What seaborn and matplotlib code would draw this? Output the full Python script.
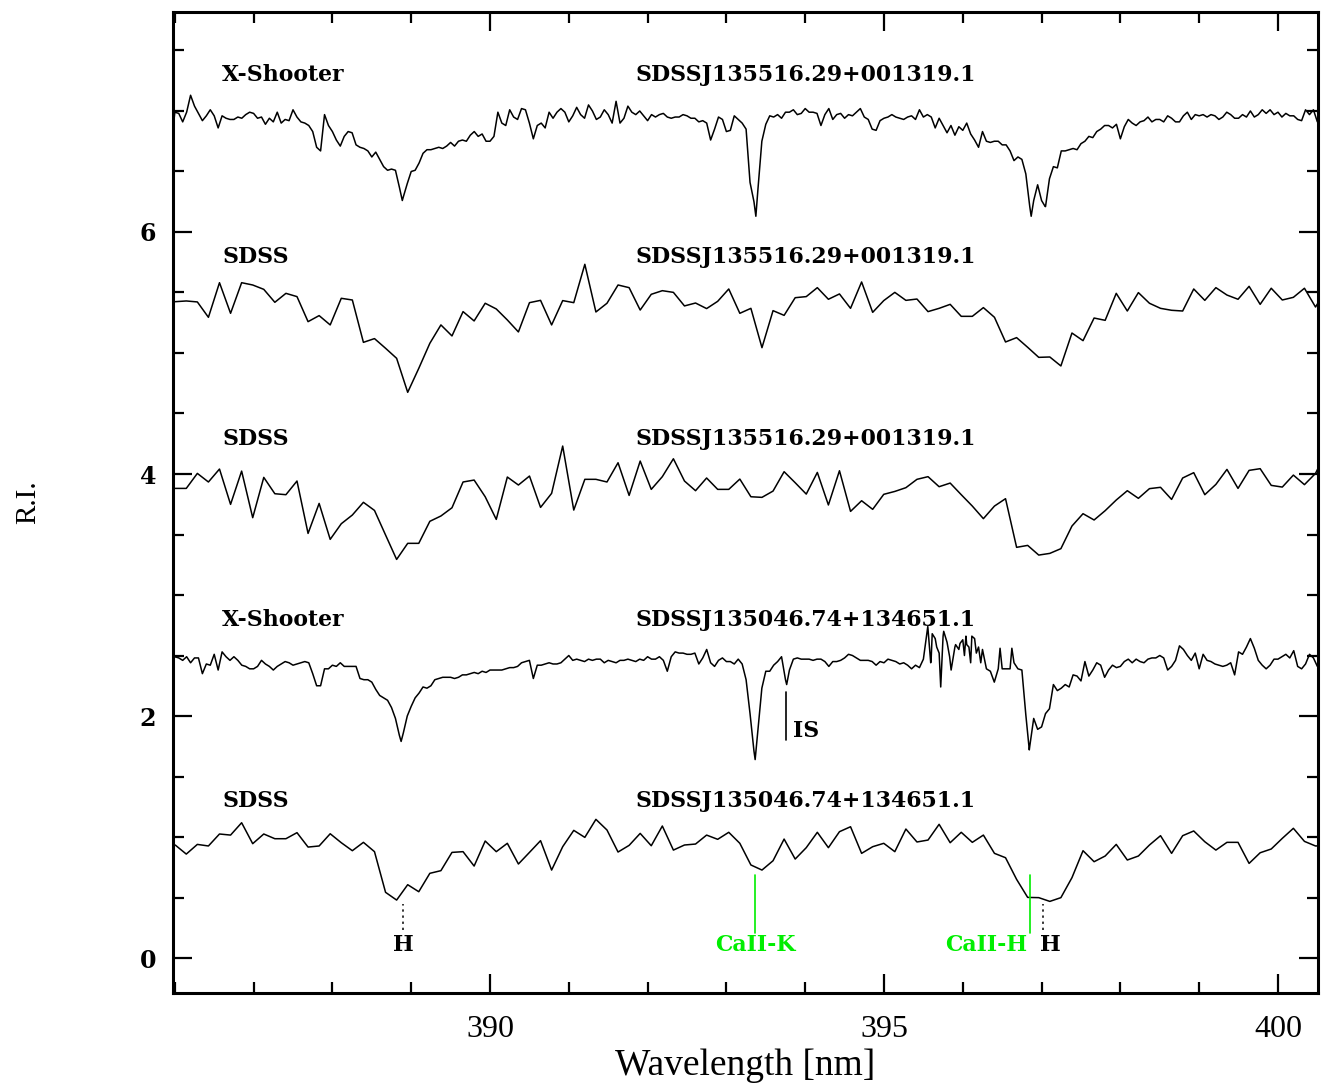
import numpy as np
import pandas as pd
import matplotlib
matplotlib.use("Agg")
import matplotlib.pyplot as plt
from matplotlib.ticker import MultipleLocator
import seaborn as sns

# ---------------- data ----------------
# X-Shooter spectra: regular grid (start, step) plus extra points at line cores
xs_start, xs_step = 385.95, 0.05
xs1_vals = [
    6.68, 6.99, 6.98, 6.91, 6.99, 7.13, 7.04, 6.98, 6.92, 6.96,
    7.01, 6.96, 6.86, 6.96, 6.94, 6.93, 6.93, 6.95, 6.94, 6.97,
    6.99, 6.98, 6.94, 6.95, 6.89, 6.94, 6.91, 6.99, 6.90, 6.93,
    6.92, 7.01, 6.95, 6.91, 6.90, 6.88, 6.83, 6.70, 6.67, 6.97,
    6.88, 6.83, 6.76, 6.71, 6.79, 6.83, 6.82, 6.72, 6.70, 6.69,
    6.67, 6.62, 6.66, 6.60, 6.54, 6.51, 6.52, 6.51, 6.37, 6.29,
    6.40, 6.50, 6.51, 6.57, 6.65, 6.68, 6.68, 6.69, 6.70, 6.69,
    6.71, 6.74, 6.71, 6.75, 6.76, 6.75, 6.80, 6.83, 6.79, 6.81,
    6.75, 6.75, 6.79, 6.99, 6.90, 6.88, 7.01, 6.95, 6.93, 7.02,
    7.01, 6.90, 6.77, 6.88, 6.90, 6.86, 6.99, 6.94, 6.99, 7.02,
    6.99, 6.91, 6.96, 7.03, 6.97, 6.94, 7.05, 7.00, 6.93, 6.95,
    7.01, 6.97, 6.90, 7.08, 6.90, 6.94, 7.04, 6.99, 6.97, 7.00,
    6.96, 6.92, 6.97, 6.95, 6.97, 6.98, 6.95, 6.94, 6.95, 6.95,
    6.97, 6.96, 6.94, 6.94, 6.91, 6.92, 6.90, 6.76, 6.85, 6.95,
    6.93, 6.83, 6.84, 6.96, 6.93, 6.90, 6.85, 6.41, 6.25, 6.35,
    6.75, 6.89, 6.96, 6.95, 6.97, 6.94, 6.99, 6.99, 7.01, 6.97,
    6.98, 7.02, 6.99, 6.99, 6.98, 6.88, 6.97, 7.02, 6.93, 6.97,
    6.98, 6.94, 6.97, 6.96, 6.99, 7.02, 6.95, 6.93, 6.85, 6.84,
    6.92, 6.94, 6.95, 6.97, 6.95, 6.94, 6.93, 6.95, 6.96, 6.93,
    7.01, 6.95, 6.97, 6.95, 6.86, 6.94, 6.88, 6.82, 6.88, 6.80,
    6.87, 6.84, 6.90, 6.81, 6.76, 6.70, 6.83, 6.75, 6.74, 6.75,
    6.75, 6.72, 6.72, 6.67, 6.59, 6.62, 6.60, 6.48, 6.21, 6.26,
    6.39, 6.26, 6.21, 6.44, 6.54, 6.53, 6.67, 6.67, 6.68, 6.69,
    6.68, 6.73, 6.75, 6.79, 6.78, 6.83, 6.85, 6.88, 6.88, 6.86,
    6.89, 6.77, 6.87, 6.93, 6.90, 6.88, 6.91, 6.92, 6.95, 6.91,
    6.93, 6.93, 6.91, 6.96, 6.94, 6.91, 6.91, 6.96, 6.99, 6.93,
    6.97, 6.96, 6.97, 6.95, 6.97, 6.96, 6.93, 6.95, 6.99, 6.97,
    6.94, 6.94, 6.97, 6.95, 7.00, 6.95, 6.97, 7.01, 6.98, 7.01,
    6.97, 6.99, 6.95, 6.98, 6.96, 6.96, 6.93, 6.92, 7.01, 6.97,
    7.01, 6.91, 6.95]
xs1_core_wl = [388.887, 393.374, 396.868, 397.046]
xs1_core_val = [6.26, 6.13, 6.13, 6.21]

xs2_vals = [
    2.42, 2.49, 2.48, 2.46, 2.49, 2.44, 2.48, 2.48, 2.35, 2.43,
    2.42, 2.51, 2.38, 2.53, 2.49, 2.46, 2.49, 2.46, 2.42, 2.41,
    2.39, 2.39, 2.41, 2.46, 2.43, 2.41, 2.38, 2.41, 2.43, 2.45,
    2.44, 2.42, 2.43, 2.44, 2.45, 2.44, 2.35, 2.25, 2.25, 2.39,
    2.39, 2.42, 2.41, 2.44, 2.41, 2.41, 2.41, 2.41, 2.31, 2.30,
    2.30, 2.28, 2.22, 2.17, 2.15, 2.13, 2.07, 1.98, 1.84, 1.86,
    2.00, 2.08, 2.15, 2.19, 2.24, 2.23, 2.25, 2.30, 2.31, 2.32,
    2.32, 2.32, 2.31, 2.32, 2.34, 2.34, 2.35, 2.36, 2.35, 2.37,
    2.36, 2.38, 2.38, 2.38, 2.38, 2.39, 2.40, 2.40, 2.41, 2.44,
    2.45, 2.46, 2.31, 2.42, 2.42, 2.43, 2.44, 2.43, 2.43, 2.44,
    2.47, 2.50, 2.46, 2.47, 2.46, 2.45, 2.47, 2.46, 2.47, 2.47,
    2.44, 2.46, 2.45, 2.44, 2.46, 2.46, 2.47, 2.46, 2.45, 2.47,
    2.46, 2.49, 2.47, 2.47, 2.49, 2.46, 2.37, 2.49, 2.53, 2.52,
    2.52, 2.51, 2.51, 2.52, 2.43, 2.48, 2.55, 2.44, 2.41, 2.46,
    2.48, 2.45, 2.45, 2.43, 2.47, 2.43, 2.30, 2.02, 1.71, 1.88,
    2.23, 2.37, 2.37, 2.42, 2.45, 2.49, 2.30, 2.38, 2.47, 2.48,
    2.47, 2.47, 2.47, 2.46, 2.47, 2.47, 2.45, 2.41, 2.45, 2.45,
    2.46, 2.48, 2.51, 2.50, 2.48, 2.46, 2.46, 2.46, 2.45, 2.42,
    2.45, 2.44, 2.47, 2.46, 2.45, 2.43, 2.44, 2.42, 2.39, 2.42,
    2.40, 2.47, 2.71, 2.49, 2.64, 2.52, 2.66, 2.61, 2.39, 2.57,
    2.55, 2.63, 2.59, 2.44, 2.64, 2.57, 2.55, 2.39, 2.37, 2.28,
    2.39, 2.39, 2.39, 2.39, 2.44, 2.39, 2.38, 2.01, 1.75, 1.98,
    1.89, 1.91, 2.02, 2.06, 2.26, 2.21, 2.23, 2.26, 2.24, 2.34,
    2.33, 2.29, 2.45, 2.33, 2.38, 2.44, 2.42, 2.32, 2.38, 2.42,
    2.40, 2.41, 2.45, 2.47, 2.44, 2.47, 2.45, 2.44, 2.47, 2.48,
    2.48, 2.50, 2.48, 2.38, 2.41, 2.46, 2.58, 2.55, 2.50, 2.46,
    2.52, 2.39, 2.51, 2.46, 2.45, 2.43, 2.42, 2.41, 2.42, 2.44,
    2.34, 2.53, 2.51, 2.57, 2.64, 2.56, 2.46, 2.42, 2.39, 2.42,
    2.47, 2.47, 2.49, 2.51, 2.48, 2.54, 2.41, 2.39, 2.43, 2.51,
    2.48, 2.41, 2.45]
xs2_core_wl = [388.872, 393.365, 393.765, 395.556, 395.593, 395.612, 395.669,
               395.720, 395.758, 395.833, 395.852, 395.909, 395.965, 396.021,
               396.040, 396.078, 396.115, 396.172, 396.228, 396.473, 396.623,
               396.844]
xs2_core_val = [1.79, 1.64, 2.26, 2.74, 2.44, 2.68, 2.57, 2.24, 2.70, 2.49,
                2.38, 2.59, 2.60, 2.50, 2.66, 2.57, 2.66, 2.52, 2.44, 2.56,
                2.56, 1.72]

# SDSS spectra: regular grid
sd_start, sd_step = 386.005, 0.1405
sdss1_vals = [
    5.424, 5.430, 5.422, 5.295, 5.581, 5.328, 5.581, 5.562, 5.526, 5.419,
    5.493, 5.466, 5.259, 5.309, 5.232, 5.452, 5.438, 5.088, 5.119, 5.039,
    4.956, 4.675, 4.873, 5.080, 5.232, 5.141, 5.342, 5.265, 5.411, 5.364,
    5.273, 5.174, 5.416, 5.435, 5.232, 5.433, 5.416, 5.733, 5.339, 5.411,
    5.562, 5.540, 5.355, 5.485, 5.515, 5.501, 5.389, 5.413, 5.367, 5.427,
    5.529, 5.328, 5.369,
    5.044, 5.350, 5.311, 5.457, 5.466, 5.540, 5.444, 5.488, 5.369, 5.587,
    5.336, 5.433, 5.501, 5.435, 5.446, 5.342, 5.369, 5.402, 5.303, 5.303,
    5.375, 5.295, 5.091, 5.127, 5.047, 4.964, 4.967, 4.893, 5.165, 5.102,
    5.289, 5.270, 5.493, 5.347, 5.499, 5.411, 5.369, 5.353, 5.347, 5.529,
    5.435, 5.540, 5.479, 5.444, 5.551, 5.402, 5.535, 5.438, 5.460, 5.535,
    5.380, 5.529]
sdss2_vals = [
    3.881, 3.881, 4.005, 3.934, 4.041, 3.749, 4.024, 3.639, 3.972, 3.837,
    3.829, 3.942, 3.509, 3.757, 3.460, 3.589, 3.661, 3.766, 3.699, 3.496,
    3.294, 3.427, 3.427, 3.609, 3.653, 3.721, 3.934, 3.950, 3.812, 3.625,
    3.975, 3.909, 3.983, 3.724, 3.840, 4.231, 3.702, 3.956, 3.956, 3.934,
    4.093, 3.823, 4.107, 3.873, 3.978, 4.126, 3.942, 3.862, 3.967, 3.873,
    3.873, 3.958, 3.812,
    3.807, 3.859, 4.019, 3.928, 3.834, 4.013, 3.744, 4.027, 3.691, 3.779,
    3.708, 3.832, 3.856, 3.887, 3.956, 3.978, 3.895, 3.925, 3.829, 3.735,
    3.631, 3.735, 3.796, 3.394, 3.410, 3.330, 3.344, 3.383, 3.570, 3.672,
    3.620, 3.697, 3.785, 3.862, 3.799, 3.879, 3.890, 3.790, 3.967, 4.011,
    3.829, 3.914, 4.038, 3.881, 4.030, 4.044, 3.906, 3.892, 3.991, 3.912,
    4.005, 4.190]
sdss3_vals = [
    0.934, 0.859, 0.939, 0.926, 1.025, 1.016, 1.118, 0.945, 1.025, 0.986,
    0.986, 1.036, 0.917, 0.926, 1.027, 0.953, 0.887, 0.956, 0.879, 0.543,
    0.479, 0.606, 0.548, 0.700, 0.722, 0.873, 0.879, 0.760, 0.967, 0.879,
    0.948, 0.777, 0.873, 0.970, 0.727, 0.920, 1.055, 0.997, 1.146, 1.058,
    0.876, 0.931, 1.030, 0.928, 1.091, 0.892, 0.934, 0.942, 1.016, 0.981,
    1.039, 0.948, 0.769,
    0.727, 0.804, 0.983, 0.818, 0.912, 1.039, 0.912, 1.044, 1.085, 0.865,
    0.920, 0.948, 0.879, 1.066, 0.959, 0.975, 1.105, 0.953, 1.039, 0.956,
    1.016, 0.865, 0.829, 0.650, 0.501, 0.499, 0.468, 0.499, 0.664, 0.887,
    0.796, 0.843, 0.939, 0.810, 0.843, 0.934, 1.011, 0.865, 1.011, 1.050,
    0.961, 0.892, 0.956, 0.956, 0.782, 0.870, 0.901, 0.989, 1.072, 0.964,
    0.926, 0.930]

# panel labels: (instrument, object, y position)
instruments = ["X-Shooter", "SDSS", "SDSS", "X-Shooter", "SDSS"]
objects = ["SDSSJ135516.29+001319.1", "SDSSJ135516.29+001319.1",
           "SDSSJ135516.29+001319.1", "SDSSJ135046.74+134651.1",
           "SDSSJ135046.74+134651.1"]
label_y = [7.30, 5.79, 4.29, 2.79, 1.30]
inst_x, obj_x = 386.60, 391.85

# line identifications
h_lines = [388.895, 397.02]
ca_lines = {"CaII-K": 393.367, "CaII-H": 396.853}
is_line = 393.76

# ---------------- plotting ----------------
sns.set_theme(style="ticks")
plt.rcParams['font.family'] = ['DejaVu Serif', 'DejaVu Sans']
plt.rcParams.update({
    'axes.facecolor': 'white', 'figure.facecolor': 'white',
    'text.color': 'black', 'axes.labelcolor': 'black',
    'xtick.color': 'black', 'ytick.color': 'black',
    'axes.edgecolor': 'black',
})

W, H = 1322, 1084
fig = plt.figure(figsize=(W / 100, H / 100), dpi=100)
ax = fig.add_axes([173 / W, 1 - 993 / H, (1318 - 173) / W, (993 - 12) / H])


def grid_frame(start, step, vals, extra_wl=(), extra_val=()):
    wl = start + step * np.arange(len(vals))
    wl = np.concatenate([wl, np.asarray(extra_wl, float)])
    v = np.concatenate([np.asarray(vals, float), np.asarray(extra_val, float)])
    df = pd.DataFrame({"wl": wl, "ri": v}).sort_values("wl")
    return df


spectra = [
    grid_frame(xs_start, xs_step, xs1_vals, xs1_core_wl, xs1_core_val),
    grid_frame(sd_start, sd_step, sdss1_vals),
    grid_frame(sd_start, sd_step, sdss2_vals),
    grid_frame(xs_start, xs_step, xs2_vals, xs2_core_wl, xs2_core_val),
    grid_frame(sd_start, sd_step, sdss3_vals),
]
for df in spectra:
    sns.lineplot(data=df, x="wl", y="ri", ax=ax, color="black", linewidth=1.1,
                 estimator=None, sort=True, legend=False)

ax.set_xlim(385.977, 400.508)
ax.set_ylim(-0.289, 7.818)

lab_font = dict(family="DejaVu Serif", fontweight="bold", fontsize=15.8,
                color="black")
for inst, obj, y in zip(instruments, objects, label_y):
    ax.text(inst_x, y, inst, ha="left", va="center", **lab_font)
    ax.text(obj_x, y, obj, ha="left", va="center", **lab_font)

# IS marker
ax.plot([is_line, is_line], [1.80, 2.20], color="black", lw=1.2)
ax.text(is_line + 0.09, 1.88, "IS", ha="left", va="center", **lab_font)

# H markers (dotted)
for hx in h_lines:
    ax.plot([hx, hx], [0.23, 0.45], color="black", lw=1.1, ls=(0, (1.5, 2.5)))
ax.text(h_lines[0], 0.107, "H", ha="center", va="center", **lab_font)
ax.text(h_lines[1] + 0.09, 0.107, "H", ha="center", va="center", **lab_font)

green = "#00ee00"
green_font = dict(lab_font, color=green)
for name, cx in ca_lines.items():
    ax.plot([cx, cx], [0.21, 0.69], color=green, lw=1.2)
ax.text(ca_lines["CaII-K"], 0.107, "CaII-K", ha="center", va="center",
        **green_font)
ax.text(ca_lines["CaII-H"] - 0.03, 0.107, "CaII-H", ha="right", va="center",
        **green_font)

# axes styling
ax.xaxis.set_major_locator(MultipleLocator(5))
ax.xaxis.set_minor_locator(MultipleLocator(1))
ax.yaxis.set_major_locator(MultipleLocator(2))
ax.yaxis.set_minor_locator(MultipleLocator(0.5))
ax.tick_params(which="both", direction="in", top=True, right=True,
               width=1.6, color="black", labelcolor="black")
ax.tick_params(which="major", length=14)
ax.tick_params(which="minor", length=8)
ax.tick_params(axis="x", which="major", pad=16)
ax.tick_params(axis="y", which="major", pad=12)
for lbl in ax.get_xticklabels():
    lbl.set_fontfamily("Liberation Serif")
    lbl.set_fontsize(23)
for lbl in ax.get_yticklabels():
    lbl.set_fontfamily("DejaVu Serif")
    lbl.set_fontweight("bold")
    lbl.set_fontsize(17)
for sp in ax.spines.values():
    sp.set_visible(True)
    sp.set_linewidth(2.2)
    sp.set_color("black")

ax.set_xlabel("Wavelength [nm]", fontfamily="Liberation Serif", fontsize=27,
              color="black")
ax.set_ylabel("R.I.", fontfamily="Liberation Serif", fontsize=21,
              color="black")
ax.xaxis.set_label_coords(0.5, -0.0744)
ax.xaxis.label.set_va("center")
ax.yaxis.set_label_coords(-0.1266, 0.5)
ax.yaxis.label.set_va("center")

fig.savefig("out.png", dpi=100, facecolor="white")
